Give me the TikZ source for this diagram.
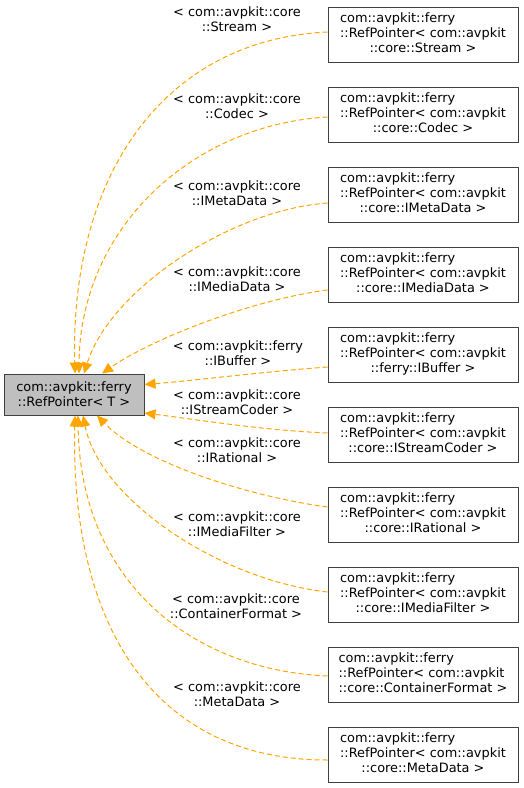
\documentclass[tikz,border=0pt]{standalone}
\usepackage{fontspec}
\setmainfont{DejaVu Sans}
\usetikzlibrary{positioning,arrows.meta}
\definecolor{deporange}{HTML}{FFA500}
\definecolor{basegray}{HTML}{BFBFBF}
\newcommand{\rptext}[1]{\begin{tabular}{@{}l@{}}com::avpkit::ferry\\::RefPointer< com::avpkit\\\multicolumn{1}{@{}c@{}}{#1 >}\end{tabular}}

\begin{document}
\begin{tikzpicture}[x=1pt, y=-1pt,
	every node/.style={font=\fontsize{12.9}{14.8}\selectfont, inner sep=0pt},
	cls/.style={draw=black!75, line width=1pt, minimum width=190pt, minimum height=55pt},
	base/.style={draw=black!75, fill=basegray, line width=1pt, minimum width=140pt, minimum height=41pt, align=center},
	lbl/.style={align=center},
	dep/.style={draw=deporange, line width=1pt, dash pattern=on 5pt off 3pt, -{Triangle[length=11pt, width=10pt]}}]
	\useasboundingbox (0,0) rectangle (524,788);
	\node[base] (B) at (74,394.5) {com::avpkit::ferry\\::RefPointer< T >};
	% instantiations
	\node[cls] (s1) at (423,34.5) {\rptext{::core::Stream}};
	\node[cls, below=24pt of s1] (s2) {\rptext{::core::Codec}};
	\node[cls, below=24pt of s2] (s3) {\rptext{::core::IMetaData}};
	\node[cls, below=24pt of s3] (s4) {\rptext{::core::IMediaData}};
	\node[cls, below=24pt of s4] (s5) {\rptext{::ferry::IBuffer}};
	\node[cls, below=24pt of s5] (s6) {\rptext{::core::IStreamCoder}};
	\node[cls, below=24pt of s6] (s7) {\rptext{::core::IRational}};
	\node[cls, below=24pt of s7] (s8) {\rptext{::core::IMediaFilter}};
	\node[cls, below=24pt of s8] (s9) {\rptext{::core::ContainerFormat}};
	\node[cls, below=24pt of s9] (s10) {\rptext{::core::MetaData}};
	% template arguments
	\node[lbl] (l1) at (237,19) {< com::avpkit::core\\::Stream >};
	\node[lbl] (l2) at (237,106) {< com::avpkit::core\\::Codec >};
	\node[lbl] (l3) at (237,193.5) {< com::avpkit::core\\::IMetaData >};
	\node[lbl] (l4) at (237,279.5) {< com::avpkit::core\\::IMediaData >};
	\node[lbl] (l5) at (238,353.5) {< com::avpkit::ferry\\::IBuffer >};
	\node[lbl] (l6) at (237,402.5) {< com::avpkit::core\\::IStreamCoder >};
	\node[lbl] (l7) at (237,450.5) {< com::avpkit::core\\::IRational >};
	\node[lbl] (l8) at (237,524.5) {< com::avpkit::core\\::IMediaFilter >};
	\node[lbl] (l9) at (236,606.5) {< com::avpkit::core\\::ContainerFormat >};
	\node[lbl] (l10) at (237,694) {< com::avpkit::core\\::MetaData >};
	% dependencies
	\draw[dep] ([yshift=2.5pt]s1.west) .. controls (160,40) and (70,180) .. ([xshift=1pt]B.north);
	\draw[dep] ([yshift=-2.5pt]s2.west) .. controls (190,125) and (80,230) .. ([xshift=5pt]B.north);
	\draw[dep] ([yshift=-8.5pt]s3.west) .. controls (230,210) and (110,290) .. ([xshift=10pt]B.north);
	\draw[dep] ([yshift=-15.5pt]s4.west) .. controls (250,300) and (150,340) .. ([xshift=28pt]B.north);
	\draw[dep] ([yshift=-12.5pt]s5.west) .. controls (260,372) and (200,380) .. ([yshift=10pt]B.east);
	\draw[dep] ([yshift=1.5pt]s6.west) .. controls (260,430) and (200,420) .. ([yshift=-18.5pt]B.east);
	\draw[dep] ([yshift=7.5pt]s7.west) .. controls (240,495) and (140,460) .. ([xshift=23pt]B.south);
	\draw[dep] ([yshift=2.5pt]s8.west) .. controls (220,580) and (100,500) .. ([xshift=9pt]B.south);
	\draw[dep] ([yshift=-1.5pt]s9.west) .. controls (190,670) and (80,580) .. ([xshift=4pt]B.south);
	\draw[dep] ([yshift=-5.5pt]s10.west) .. controls (150,760) and (70,620) .. ([xshift=1pt]B.south);
\end{tikzpicture}
\end{document}
